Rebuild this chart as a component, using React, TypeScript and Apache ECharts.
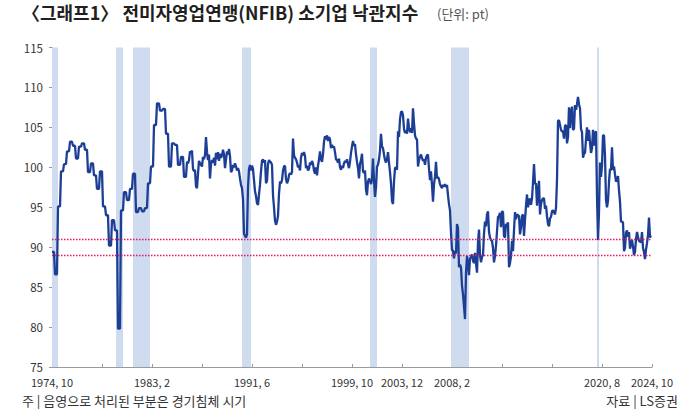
import React, { useEffect, useRef } from 'react';
import * as echarts from 'echarts';

// NFIB small business optimism index (pt)
// 1974 Q4 .. 1985 Q4 (quarterly survey)
const quarterly1974Q4to1985Q4 = [
  89.4, 86.6, 95.1, 99.5, 100.4, 102.0, 103.2, 102.7, 101.1, 102.6, 103.0, 102.2,
  99.4, 100.5, 99.0, 97.3, 99.5, 95.1, 94.0, 90.2, 93.4, 92.1, 79.8, 94.6,
  96.9, 95.9, 97.3, 99.2, 94.4, 94.9, 94.5, 94.9, 98.0, 100.1, 105.3, 108.0,
  107.1, 107.3, 104.2, 100.1, 103.0, 102.8, 100.3, 101.3, 98.8,
];

// monthly 1986.1 ..
const monthly1986to1991 = [
  100.7, 100.5, 100.9, 102.0, 101.8, 102.1, 99.8, 99.5, 99.7, 97.6, 97.4, 99.2,
  100.8, 100.5, 100.3, 100.1, 101.3, 101.0, 101.5, 103.8, 101.9, 100.9, 101.6, 98.6,
  100.4, 100.9, 100.6, 101.2, 100.2, 101.8, 101.0, 101.9, 100.8, 101.7, 101.2, 101.5,
  102.2, 101.6, 99.9, 101.0, 102.0, 101.6, 102.3, 101.4, 99.4, 99.6, 100.3, 100.0,
  100.5, 100.1, 99.6, 99.9, 99.5, 98.6, 97.8, 97.4, 96.0, 91.7, 91.4, 91.2,
  91.6, 97.5, 99.8, 100.3, 99.6, 100.2, 99.8, 98.4, 97.0, 96.4, 95.5, 95.3,
];
const monthly1992to1997 = [
  96.6, 97.8, 99.5, 100.8, 101.0, 100.6, 100.9, 98.0, 98.3, 100.4, 100.9, 100.7,
  100.6, 100.3, 96.5, 95.0, 93.3, 92.8, 93.2, 93.9, 96.7, 98.2, 98.0, 98.4,
  99.6, 100.1, 100.2, 98.5, 98.0, 98.3, 99.0, 99.3, 99.1, 99.4, 103.6, 101.5,
  101.2, 101.0, 100.6, 100.0, 100.2, 99.6, 101.2, 101.8, 101.5, 101.9, 101.4, 99.9,
  100.2, 99.6, 99.8, 100.6, 100.3, 100.8, 100.4, 99.6, 99.2, 100.0, 99.0, 100.2,
  101.0, 102.0, 101.0, 100.7, 101.6, 103.2, 103.9, 103.5, 104.0, 103.3, 103.8, 103.5,
];
const monthly1998to2003 = [
  102.4, 102.8, 102.5, 102.6, 101.9, 101.0, 100.9, 100.6, 101.1, 100.0, 99.7, 100.2,
  99.9, 100.5, 100.8, 100.6, 101.0, 100.4, 99.9, 100.7, 101.8, 102.6, 103.3, 102.7,
  102.9, 101.6, 100.7, 99.9, 98.6, 100.4, 100.9, 101.7, 99.5, 99.3, 99.6, 97.2,
  96.5, 98.2, 98.6, 98.3, 97.9, 98.5, 101.1, 98.4, 96.3, 97.5, 100.1, 100.3,
  101.0, 102.1, 104.2, 102.6, 102.4, 101.6, 100.9, 100.6, 101.0, 101.9, 100.6, 99.4,
  98.0, 95.8, 95.4, 98.2, 99.9, 100.0, 99.7, 104.5, 103.8, 106.0, 106.9, 107.0,
];
const monthly2004to2009 = [
  106.5, 104.8, 104.3, 104.6, 104.2, 106.1, 105.0, 104.4, 104.9, 104.3, 107.4, 105.5,
  104.0, 103.6, 103.5, 100.1, 100.9, 101.3, 101.6, 101.2, 100.8, 101.0, 100.3, 101.2,
  101.5, 101.6, 99.8, 98.4, 99.5, 97.8, 95.7, 97.9, 98.8, 100.7, 98.6, 98.8,
  98.5, 97.9, 97.6, 97.4, 97.8, 97.6, 97.9, 97.5, 97.8, 96.5, 95.4, 94.6,
  91.8, 89.6, 89.6, 88.6, 89.5, 89.2, 92.9, 92.4, 87.5, 87.8, 87.5, 85.2,
  84.1, 82.6, 81.0, 86.8, 88.9, 87.9, 86.5, 88.6, 88.8, 89.1, 88.3, 88.0,
];
const monthly2010to2016 = [
  89.3, 88.0, 86.8, 90.6, 92.2, 89.0, 88.1, 88.8, 89.0, 91.7, 93.2, 92.6,
  94.1, 94.5, 91.9, 91.2, 90.9, 90.8, 89.9, 88.1, 88.9, 90.2, 92.0, 93.8,
  93.9, 94.3, 92.5, 94.5, 94.4, 91.4, 91.2, 92.9, 92.8, 93.1, 87.5, 88.0,
  88.9, 90.8, 89.5, 92.1, 94.4, 93.5, 94.1, 94.0, 93.9, 91.6, 92.5, 93.9,
  94.1, 91.4, 93.4, 95.2, 96.6, 95.0, 95.7, 96.1, 95.3, 96.1, 98.1, 100.4,
  97.9, 98.0, 95.2, 96.9, 98.3, 94.1, 95.4, 95.9, 96.1, 96.1, 94.8, 95.2,
  93.9, 92.9, 92.6, 93.6, 93.8, 94.5, 94.6, 94.4, 94.1, 94.9, 98.4, 105.8,
];
const monthly2017to2024 = [
  105.9, 105.3, 104.7, 104.5, 104.5, 103.6, 105.2, 105.3, 103.0, 103.8, 107.5, 104.9,
  106.9, 107.6, 104.7, 104.8, 107.8, 107.2, 107.9, 108.8, 107.9, 107.4, 104.8, 104.4,
  101.2, 101.7, 101.8, 103.5, 105.0, 103.3, 104.7, 103.1, 101.8, 102.4, 104.7, 102.7,
  104.3, 104.5, 96.4, 90.9, 94.4, 100.6, 98.8, 100.2, 104.0, 104.0, 101.4, 95.9,
  95.0, 95.8, 98.2, 99.8, 99.6, 102.5, 99.7, 100.1, 99.1, 98.2, 98.4, 98.9,
  97.1, 95.7, 93.2, 93.2, 93.1, 89.5, 89.9, 91.8, 92.1, 91.3, 91.9, 89.8,
  90.3, 90.9, 90.1, 89.0, 89.4, 91.0, 91.9, 91.3, 90.8, 90.7, 90.6, 91.9,
  89.9, 89.4, 88.5, 89.7, 90.5, 91.5, 93.7, 91.2, 91.5,
];

// x-axis ticks every 50 months from 1974.10 to 2024.10
const xTickLabels = [
  '1974, 10', '', '1983, 2', '', '1991, 6', '', '1999, 10', '2003, 12', '2008, 2', '', '', '2020, 8', '2024, 10',
];
// shaded recession periods [start, end] (year.month)
const recessions = [
  ['1974.10', '1975.4'],
  ['1980.2', '1980.9'],
  ['1981.7', '1982.12'],
  ['1990.8', '1991.5'],
  ['2001.4', '2001.11'],
  ['2008.1', '2009.7'],
  ['2020.3', '2020.5'],
];
const guideLevels = [91, 89];

const titleText = '〈그래프1〉 전미자영업연맹(NFIB) 소기업 낙관지수';
const unitText = '(단위: pt)';
const noteText = '주 | 음영으로 처리된 부분은 경기침체 시기';
const sourceText = '자료 | LS증권';

const NUM_FONT = "'Liberation Sans Narrow', 'Arial Narrow', 'Noto Sans CJK KR', sans-serif";
const KR_FONT = "'Noto Sans CJK KR', 'Noto Sans', sans-serif";

function monthIndex(s: string): number {
  const [y, m] = s.split('.').map(Number);
  return (y - 1974) * 12 + (m - 10);
}

export default function App() {
  const ref = useRef<HTMLDivElement>(null);

  useEffect(() => {
    if (!ref.current) return;
    const chart = echarts.init(ref.current, undefined, { renderer: 'svg' });

    const points: [number, number][] = [];
    quarterly1974Q4to1985Q4.forEach((v, k) => {
      for (let j = 0; j < 3; j++) points.push([3 * k + j, v]);
    });
    const monthly = [
      ...monthly1986to1991,
      ...monthly1992to1997,
      ...monthly1998to2003,
      ...monthly2004to2009,
      ...monthly2010to2016,
      ...monthly2017to2024,
    ];
    const start = quarterly1974Q4to1985Q4.length * 3;
    monthly.forEach((v, i) => points.push([start + i, v]));

    const axisColor = '#9a9a9a';
    const guideColor = '#e0186a';

    chart.setOption({
      animation: false,
      grid: { left: 52, right: 48, top: 47.5, bottom: 42, containLabel: false },
      xAxis: {
        type: 'value',
        min: 0,
        max: 600,
        interval: 50,
        axisLine: { show: true, lineStyle: { color: axisColor, width: 1 } },
        axisTick: { show: true, inside: true, length: 3, lineStyle: { color: axisColor } },
        splitLine: { show: false },
        axisLabel: {
          show: true,
          showMinLabel: true,
          showMaxLabel: true,
          formatter: (v: number) => xTickLabels[Math.round(v / 50)] || '',
          color: '#333',
          fontSize: 11,
          fontFamily: NUM_FONT,
          margin: 9,
        },
      },
      yAxis: {
        type: 'value',
        min: 75,
        max: 115,
        interval: 5,
        axisLine: { show: true, lineStyle: { color: axisColor, width: 1 } },
        axisTick: { show: true, length: 3, lineStyle: { color: axisColor } },
        splitLine: { show: false },
        axisLabel: { color: '#333', fontSize: 11.5, fontFamily: NUM_FONT, margin: 9 },
      },
      series: [
        {
          type: 'line',
          data: points,
          symbol: 'none',
          lineStyle: { color: '#1c3f95', width: 2.3 },
          itemStyle: { color: '#1c3f95' },
          z: 3,
          markArea: {
            silent: true,
            itemStyle: { color: '#cfdbef' },
            data: recessions.map(([s, e]) => [{ xAxis: monthIndex(s) }, { xAxis: monthIndex(e) }]),
          },
          markLine: {
            silent: true,
            symbol: ['none', 'none'],
            label: { show: false },
            lineStyle: { color: guideColor, type: [1.5, 1.5], width: 1.4, opacity: 1 },
            emphasis: { disabled: true },
            data: guideLevels.map((v) => ({ yAxis: v, lineStyle: { color: guideColor } })),
          },
        },
      ],
      graphic: [
        {
          type: 'text',
          left: 22,
          top: 3,
          style: { text: titleText, fontSize: 18, fontWeight: 'bold', fontFamily: KR_FONT, fill: '#231f20' },
        },
        {
          type: 'text',
          left: 437,
          top: 7,
          style: { text: unitText, fontSize: 13, fontFamily: KR_FONT, fill: '#555' },
        },
        {
          type: 'text',
          left: 22,
          top: 394,
          style: { text: noteText, fontSize: 13, fontFamily: KR_FONT, fill: '#333' },
        },
        {
          type: 'text',
          right: 22,
          top: 394,
          style: { text: sourceText, fontSize: 13, fontFamily: KR_FONT, fill: '#333' },
        },
      ],
    });

    return () => chart.dispose();
  }, []);

  return <div ref={ref} style={{ position: 'absolute', left: 0, top: 0, width: 700, height: 409 }} />;
}
